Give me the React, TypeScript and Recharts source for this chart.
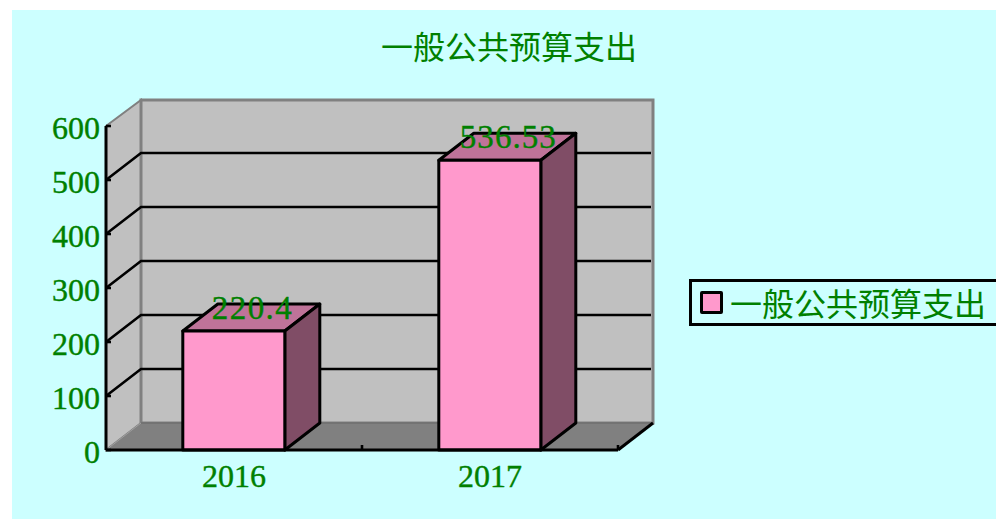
import { Bar, BarChart, Legend, ReferenceArea, ReferenceLine, XAxis, YAxis } from "recharts";

const categories = ["2016", "2017"];
const spending = [220.4, 536.53];
const yTicks = [0, 100, 200, 300, 400, 500, 600];
const innerGrid = [100, 200, 300, 400, 500];
const seriesName = "一般公共预算支出";

const tableData = categories.map((year, i) => ({ year, spending: spending[i] }));

const GREEN = "#008000";
const SERIF = "'Liberation Serif', serif";
const CJK = "'Noto Sans CJK SC', sans-serif";
// depth of the fake 3d box
const DX = 35;
const DY = 27;

function Walls({ x, y, width, height }: any) {
  const b = y + height;
  const r = x + width;
  return (
    <g>
      <polygon
        points={`${x},${y} ${x + DX},${y - DY + 1} ${x + DX},${b - DY} ${x},${b}`}
        fill="#c0c0c0"
        stroke="#808080"
        strokeWidth={2}
      />
      <rect x={x + DX} y={y - DY + 1} width={width} height={height - 1} fill="#c0c0c0" stroke="#808080" strokeWidth={3} />
      <polygon
        points={`${x},${b} ${x + DX},${b - DY} ${r + DX},${b - DY} ${r},${b}`}
        fill="#808080"
      />
      <line x1={x + DX} y1={b - DY} x2={r + DX} y2={b - DY} stroke="#666666" strokeWidth={1} />
      <line x1={x} y1={b} x2={x + DX} y2={b - DY} stroke="#a0a0a0" strokeWidth={1} />
      <line x1={r} y1={b} x2={r + DX} y2={b - DY} stroke="#000" strokeWidth={3} />
    </g>
  );
}

function GridLine3D({ x1, y1, x2, y2 }: any) {
  return (
    <polyline
      points={`${x1},${y1} ${x1 + DX},${y1 - DY} ${x2 + DX - 2},${y2 - DY}`}
      fill="none"
      stroke="#000"
      strokeWidth={2.6}
    />
  );
}

function Box3D({ x, y, width, height }: any) {
  const r = x + width;
  const b = y + height;
  return (
    <g stroke="#000" strokeWidth={3} strokeLinejoin="round">
      <polygon points={`${x},${y} ${x + DX},${y - DY} ${r + DX},${y - DY} ${r},${y}`} fill="#bf7399" />
      <polygon points={`${r},${y} ${r + DX},${y - DY} ${r + DX},${b - DY} ${r},${b}`} fill="#804d66" />
      <rect x={x} y={y} width={width} height={height} fill="#ff99cc" />
    </g>
  );
}

function ValueLabel({ x, y, width, value }: any) {
  return (
    <text
      x={x + width / 2 + 18}
      y={y - 12}
      textAnchor="middle"
      fontFamily={SERIF}
      fontSize={33}
      fill={GREEN}
      stroke={GREEN}
      strokeWidth={0.4}
      textLength={String(value).length * 16}
      lengthAdjust="spacing"
    >
      {value}
    </text>
  );
}

function YTick({ x, y, payload }: any) {
  return (
    <g>
      <line x1={x + 8} y1={y} x2={x + 13} y2={y} stroke="#000" strokeWidth={2.6} />
      <text x={x + 2} y={y + 13} textAnchor="end" fontFamily={SERIF} fontSize={32} fill={GREEN} stroke={GREEN} strokeWidth={0.4}>
        {payload.value}
      </text>
    </g>
  );
}

function XTick({ x, y, payload }: any) {
  return (
    <g>
      <line x1={x + 128} y1={445} x2={x + 128} y2={450} stroke="#000" strokeWidth={2.6} />
      <text x={x} y={487} textAnchor="middle" fontFamily={SERIF} fontSize={32} fill={GREEN} stroke={GREEN} strokeWidth={0.4}>
        {payload.value}
      </text>
    </g>
  );
}

function LegendBox() {
  return (
    <div
      style={{
        boxSizing: "border-box",
        width: 320,
        height: 47,
        border: "3px solid #000",
        display: "flex",
        alignItems: "center",
        color: GREEN,
        fontFamily: CJK,
        fontSize: 32,
        lineHeight: "41px",
      }}
    >
      <span
        style={{
          boxSizing: "border-box",
          width: 23,
          height: 23,
          marginLeft: 8,
          marginRight: 7,
          background: "#ff99cc",
          border: "3px solid #000",
          borderRadius: 2,
        }}
      />
      {seriesName}
    </div>
  );
}

export default function App() {
  return (
    <div style={{ position: "absolute", left: 0, top: 0, width: 996, height: 519, overflow: "hidden", background: "#fff" }}>
      <div style={{ position: "absolute", left: 12, top: 10, width: 984, height: 509, background: "#ccffff" }} />
      <div
        style={{
          position: "absolute",
          left: 309,
          width: 400,
          top: 22,
          textAlign: "center",
          fontFamily: CJK,
          fontSize: 32,
          lineHeight: "46px",
          color: GREEN,
        }}
      >
        {seriesName}
      </div>
      <div style={{ position: "absolute", left: 0, top: 0 }}>
        <BarChart
          width={996}
          height={519}
          data={tableData}
          margin={{ top: 126, right: 378, bottom: 0, left: 0 }}
          barCategoryGap="30%"
        >
          <ReferenceArea y1={0} y2={600} shape={<Walls />} zIndex={-100} ifOverflow="visible" />
          {innerGrid.map((t) => (
            <ReferenceLine key={t} y={t} shape={<GridLine3D />} zIndex={-90} ifOverflow="visible" />
          ))}
          <XAxis
            dataKey="year"
            height={69}
            axisLine={{ stroke: "#000", strokeWidth: 3 }}
            tickLine={false}
            tick={<XTick />}
            interval={0}
          />
          <YAxis
            width={106}
            domain={[0, 600]}
            ticks={yTicks}
            axisLine={{ stroke: "#000", strokeWidth: 3 }}
            tickLine={false}
            tick={<YTick />}
            interval={0}
          />
          <Legend
            layout="vertical"
            align="center"
            verticalAlign="middle"
            content={<LegendBox />}
            wrapperStyle={{ position: "absolute", left: 689, top: 279, width: 320 }}
          />
          <Bar dataKey="spending" name={seriesName} shape={<Box3D />} label={<ValueLabel />} isAnimationActive={false} />
        </BarChart>
      </div>
    </div>
  );
}
